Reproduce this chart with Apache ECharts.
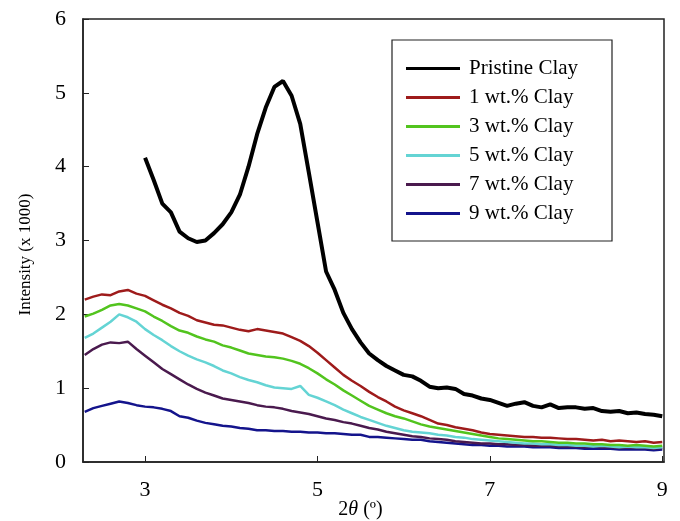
<!DOCTYPE html>
<html>
<head>
<meta charset="utf-8">
<script src="https://cdn.jsdelivr.net/npm/echarts@6/dist/echarts.min.js"></script>
<style>
  html, body { margin: 0; padding: 0; background: #fff; }
  #chart { width: 680px; height: 521px; }
</style>
</head>
<body>
<div id="chart"></div>
<script>
// 2θ positions (degrees)
const twoTheta = [
  2.3, 2.4, 2.5, 2.6, 2.7, 2.8, 2.9, 3.0, 3.1, 3.2, 3.3, 3.4, 3.5, 3.6, 3.7, 3.8, 3.9,
  4.0, 4.1, 4.2, 4.3, 4.4, 4.5, 4.6, 4.7, 4.8, 4.9, 5.0, 5.1, 5.2, 5.3, 5.4, 5.5, 5.6,
  5.7, 5.8, 5.9, 6.0, 6.1, 6.2, 6.3, 6.4, 6.5, 6.6, 6.7, 6.8, 6.9, 7.0, 7.1, 7.2, 7.3,
  7.4, 7.5, 7.6, 7.7, 7.8, 7.9, 8.0, 8.1, 8.2, 8.3, 8.4, 8.5, 8.6, 8.7, 8.8, 8.9, 9.0
];

// intensities (x 1000)
const pristine = [
  null, null, null, null, null, null, null, 4.12, 3.82, 3.50, 3.38, 3.12, 3.03, 2.98, 3.00, 3.10, 3.22,
  3.38, 3.62, 4.00, 4.44, 4.80, 5.08, 5.16, 4.96, 4.58, 3.92, 3.25, 2.58, 2.33, 2.02, 1.80, 1.62, 1.47,
  1.38, 1.30, 1.24, 1.18, 1.16, 1.10, 1.02, 1.00, 1.01, 0.99, 0.92, 0.90, 0.86, 0.84, 0.80, 0.76, 0.79,
  0.81, 0.76, 0.74, 0.78, 0.73, 0.74, 0.74, 0.72, 0.73, 0.69, 0.68, 0.69, 0.66, 0.67, 0.65, 0.64, 0.62
];
const clay1 = [
  2.20, 2.24, 2.27, 2.26, 2.31, 2.33, 2.28, 2.25, 2.19, 2.13, 2.08, 2.02, 1.98, 1.92, 1.89, 1.86, 1.85,
  1.82, 1.79, 1.77, 1.80, 1.78, 1.76, 1.74, 1.69, 1.64, 1.57, 1.48, 1.38, 1.28, 1.18, 1.10, 1.03, 0.95,
  0.88, 0.82, 0.75, 0.70, 0.66, 0.62, 0.57, 0.52, 0.50, 0.47, 0.45, 0.43, 0.40, 0.38, 0.37, 0.36, 0.35,
  0.34, 0.34, 0.33, 0.33, 0.32, 0.31, 0.31, 0.30, 0.29, 0.30, 0.28, 0.29, 0.28, 0.27, 0.28, 0.26, 0.27
];
const clay3 = [
  1.97, 2.01, 2.06, 2.12, 2.14, 2.12, 2.08, 2.04, 1.97, 1.91, 1.84, 1.78, 1.75, 1.70, 1.66, 1.63, 1.58,
  1.55, 1.51, 1.47, 1.45, 1.43, 1.42, 1.40, 1.37, 1.33, 1.27, 1.20, 1.12, 1.05, 0.97, 0.90, 0.83, 0.76,
  0.71, 0.66, 0.62, 0.59, 0.55, 0.51, 0.48, 0.46, 0.44, 0.42, 0.40, 0.38, 0.36, 0.34, 0.32, 0.31, 0.30,
  0.29, 0.28, 0.28, 0.27, 0.26, 0.26, 0.25, 0.25, 0.24, 0.24, 0.23, 0.23, 0.22, 0.23, 0.22, 0.21, 0.22
];
const clay5 = [
  1.68, 1.74, 1.82, 1.90, 2.00, 1.96, 1.90, 1.80, 1.72, 1.65, 1.57, 1.50, 1.44, 1.39, 1.35, 1.30, 1.24,
  1.20, 1.15, 1.11, 1.08, 1.04, 1.01, 1.00, 0.99, 1.03, 0.91, 0.87, 0.82, 0.77, 0.71, 0.66, 0.61, 0.57,
  0.53, 0.49, 0.46, 0.43, 0.41, 0.40, 0.39, 0.37, 0.36, 0.34, 0.33, 0.31, 0.30, 0.29, 0.28, 0.27, 0.26,
  0.25, 0.25, 0.24, 0.24, 0.23, 0.23, 0.22, 0.22, 0.21, 0.22, 0.21, 0.20, 0.21, 0.20, 0.20, 0.19, 0.20
];
const clay7 = [
  1.45, 1.53, 1.59, 1.62, 1.61, 1.63, 1.53, 1.44, 1.35, 1.26, 1.19, 1.12, 1.05, 0.99, 0.94, 0.90, 0.86,
  0.84, 0.82, 0.80, 0.77, 0.75, 0.74, 0.72, 0.69, 0.67, 0.65, 0.62, 0.59, 0.57, 0.54, 0.52, 0.49, 0.46,
  0.44, 0.41, 0.39, 0.37, 0.35, 0.34, 0.32, 0.31, 0.30, 0.28, 0.27, 0.26, 0.25, 0.25, 0.24, 0.24, 0.23,
  0.23, 0.22, 0.22, 0.22, 0.21, 0.21, 0.21, 0.20, 0.21, 0.20, 0.20, 0.19, 0.20, 0.19, 0.19, 0.18, 0.19
];
const clay9 = [
  0.68, 0.73, 0.76, 0.79, 0.82, 0.80, 0.77, 0.75, 0.74, 0.72, 0.69, 0.62, 0.60, 0.56, 0.53, 0.51, 0.49,
  0.48, 0.46, 0.45, 0.43, 0.43, 0.42, 0.42, 0.41, 0.41, 0.40, 0.40, 0.39, 0.39, 0.38, 0.37, 0.37, 0.34,
  0.34, 0.33, 0.32, 0.31, 0.30, 0.30, 0.28, 0.27, 0.26, 0.25, 0.24, 0.23, 0.23, 0.22, 0.22, 0.21, 0.21,
  0.21, 0.20, 0.20, 0.20, 0.19, 0.19, 0.19, 0.18, 0.18, 0.18, 0.18, 0.17, 0.17, 0.17, 0.17, 0.16, 0.17
];

const xTicks = [3, 5, 7, 9];
const seriesNames = ['Pristine Clay', '1 wt.% Clay', '3 wt.% Clay', '5 wt.% Clay', '7 wt.% Clay', '9 wt.% Clay'];
const seriesData = [pristine, clay1, clay3, clay5, clay7, clay9];
const colors = ['#000000', '#9e1b1b', '#52c41e', '#64d4d4', '#4a1a4e', '#14148c'];
const widths = [4, 2.5, 2.5, 2.5, 2.5, 2.5];

const serif = '"Liberation Serif", "DejaVu Serif", serif';

const chart = echarts.init(document.getElementById('chart'));

const option = {
  animation: false,
  backgroundColor: '#fff',
  grid: {
    left: 83, right: 16, top: 19, bottom: 59,
    outerBoundsMode: 'none',
    show: true, borderColor: '#222', borderWidth: 1.5
  },
  legend: {
    orient: 'vertical',
    left: 401, top: 53,
    itemWidth: 54, itemHeight: 3, itemGap: 8,
    icon: 'rect',
    textStyle: { fontFamily: serif, fontSize: 21, color: '#000', padding: [0, 0, 0, 4] },
    data: seriesNames
  },
  graphic: [{
    type: 'rect',
    shape: { x: 392, y: 40, width: 220, height: 201 },
    style: { fill: 'none', stroke: '#222', lineWidth: 1.2 },
    z: 10
  }],
  xAxis: {
    type: 'value',
    min: 2.28, max: 9.02,
    name: '2{i|θ} (º)',
    nameLocation: 'middle',
    nameGap: 38,
    nameMoveOverlap: false,
    nameTextStyle: {
      fontFamily: serif, fontSize: 20, color: '#000', padding: [0, 26, 0, 0],
      rich: { i: { fontFamily: serif, fontSize: 20, fontStyle: 'italic', color: '#000' } }
    },
    axisLine: { lineStyle: { color: '#222', width: 1.5 } },
    axisTick: { inside: true, length: 6, customValues: xTicks, lineStyle: { color: '#222' } },
    axisLabel: { customValues: xTicks, fontFamily: serif, fontSize: 22, color: '#000', margin: 17 },
    splitLine: { show: false }
  },
  yAxis: {
    type: 'value',
    min: 0, max: 6, interval: 1,
    name: 'Intensity (x 1000)',
    nameLocation: 'middle',
    nameGap: 49,
    nameMoveOverlap: false,
    nameTextStyle: { fontFamily: serif, fontSize: 17, color: '#000', padding: [0, 28, 0, 0] },
    axisLine: { show: true, lineStyle: { color: '#222', width: 1.5 } },
    axisTick: { show: true, inside: true, length: 6, lineStyle: { color: '#222' } },
    axisLabel: { fontFamily: serif, fontSize: 22, color: '#000', margin: 17 },
    splitLine: { show: false }
  },
  series: seriesNames.map((name, i) => ({
    name: name,
    type: 'line',
    data: twoTheta.map((x, j) => [x, seriesData[i][j]]),
    showSymbol: false,
    connectNulls: false,
    lineStyle: { color: colors[i], width: widths[i] },
    itemStyle: { color: colors[i] },
    z: 6 - i
  }))
};

chart.setOption(option);
</script>
</body>
</html>
